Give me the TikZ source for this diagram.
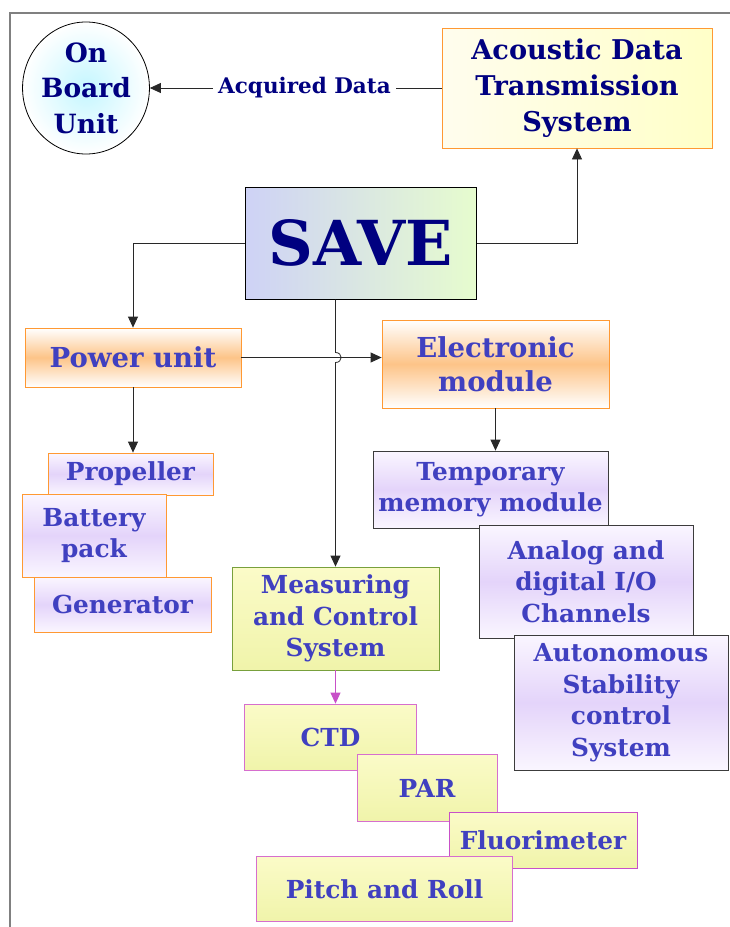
\documentclass[tikz,border=0pt]{standalone}
\usepackage{fontspec}
\setmainfont{DejaVu Serif}
\usetikzlibrary{arrows.meta,shapes.geometric}
\definecolor{navy}{RGB}{0,0,128}
\definecolor{txtblue}{RGB}{64,64,192}
\definecolor{orng}{RGB}{255,153,51}
\definecolor{orfill}{RGB}{253,196,136}
\definecolor{lav}{RGB}{228,212,250}
\definecolor{lavlt}{RGB}{250,246,255}
\definecolor{ylwA}{RGB}{251,251,200}
\definecolor{ylwB}{RGB}{240,244,170}
\definecolor{grn}{RGB}{120,160,60}
\definecolor{mag}{RGB}{214,110,206}
\definecolor{mag2}{RGB}{200,80,200}
\definecolor{lnc}{RGB}{40,40,40}
\definecolor{frame}{RGB}{128,128,128}
\definecolor{cyanc}{RGB}{196,246,255}
\definecolor{savel}{RGB}{206,210,246}
\definecolor{saver}{RGB}{230,252,206}
\definecolor{acl}{RGB}{255,253,238}
\definecolor{acr}{RGB}{255,255,200}
\definecolor{dgray}{RGB}{60,60,60}
\begin{document}
\begin{tikzpicture}[x=1pt,y=-1pt,
  box/.style={draw, rectangle, align=center, inner sep=0pt, line width=0.8pt,
    font=\bfseries\fontsize{24.8}{31.5}\selectfont, text=txtblue},
  orbox/.style={box, draw=orng, top color=white, bottom color=white, middle color=orfill,
    font=\bfseries\fontsize{27.5}{34}\selectfont},
  lavbox/.style={box, top color=lavlt, bottom color=lavlt, middle color=lav},
  ylbox/.style={box, top color=ylwA, bottom color=ylwB},
  conn/.style={draw=lnc, line width=0.8pt, -{Triangle[length=11pt,width=10pt]}},
]
\useasboundingbox (0,0) rectangle (730,927);
\fill[white] (0,0) rectangle (730,927);
% frame
\draw[frame, line width=1.5pt] (10,927) -- (10,13) -- (730,13);

% top row
\node[draw, ellipse, line width=0.8pt, inner color=cyanc, outer color=white,
  minimum width=124pt, minimum height=132pt, inner sep=0pt, align=center,
  font=\bfseries\fontsize{26.5}{35.5}\selectfont, text=navy] (obu) at (86,88) {On\\Board\\Unit};
\node[box, draw=orng, left color=acl, right color=acr, minimum width=270pt, minimum height=120pt,
  font=\bfseries\fontsize{27.2}{36}\selectfont, text=navy] (acoustic) at (577,88) {Acoustic Data\\Transmission\\System};
\node[box, draw=black, line width=1pt, left color=savel, right color=saver, minimum width=231pt, minimum height=112pt,
  font=\bfseries\fontsize{62}{70}\selectfont, text=navy] (save) at (360.5,243) {SAVE};

% power branch
\node[orbox, minimum width=216pt, minimum height=59pt] (power) at (133,357.5) {Power unit};
\node[orbox, minimum width=227pt, minimum height=88pt] (elec) at (495.5,364) {Electronic\\module};
\node[lavbox, draw=orng, minimum width=165pt, minimum height=42pt] (prop) at (130.5,474) {Propeller};
\node[lavbox, draw=orng, minimum width=144pt, minimum height=83pt] (batt) at (94,535.5) {Battery\\pack};
\node[lavbox, draw=orng, minimum width=177pt, minimum height=55pt] (gen) at (122.5,604.5) {Generator};

% electronic branch
\node[lavbox, draw=dgray, minimum width=235pt, minimum height=77pt] (temp) at (490.5,489.5) {Temporary\\memory module};
\node[lavbox, draw=dgray, minimum width=214pt, minimum height=113pt] (anio) at (586,581.5) {Analog and\\digital I/O\\Channels};
\node[lavbox, draw=dgray, minimum width=214pt, minimum height=135pt] (auto) at (621,702.5) {Autonomous\\Stability\\control\\System};

% measuring branch
\node[ylbox, draw=grn, minimum width=207pt, minimum height=103pt] (meas) at (335.5,618.5) {Measuring\\and Control\\System};
\node[ylbox, draw=mag, minimum width=172pt, minimum height=66pt] (ctd) at (330.5,737) {CTD};
\node[ylbox, draw=mag, minimum width=140pt, minimum height=67pt] (par) at (427,788) {PAR};
\node[ylbox, draw=mag2, minimum width=188pt, minimum height=56pt] (fluo) at (543,840) {Fluorimeter};
\node[ylbox, draw=mag, minimum width=256pt, minimum height=65pt] (pitch) at (384.5,889) {Pitch and Roll};

% connectors
\draw[conn] (acoustic.west) -- node[pos=0.47, fill=white, inner sep=5pt, text=navy,
  font=\bfseries\fontsize{21.5}{24}\selectfont] (acq) {Acquired Data} (acoustic.west -| obu.east);
\draw[conn] (save.east) -| (acoustic.south);
\draw[conn] (save.west) -| (power.north);
\draw[conn] (power.east) -- (power.east -| elec.west);
\draw[conn] (power.south) -- (power.south |- prop.north);
\draw[conn] (elec.south) -- (elec.south |- temp.north);
\draw[conn] (save.south -| meas.north) -- (335.5,352.5)
  .. controls (343,352.5) and (343,362.5) .. (335.5,362.5) -- (meas.north);
\draw[conn, draw=mag2, -{Triangle[length=11pt,width=10pt,fill=mag2]}] (meas.south) -- (meas.south |- ctd.north);
\end{tikzpicture}
\end{document}
